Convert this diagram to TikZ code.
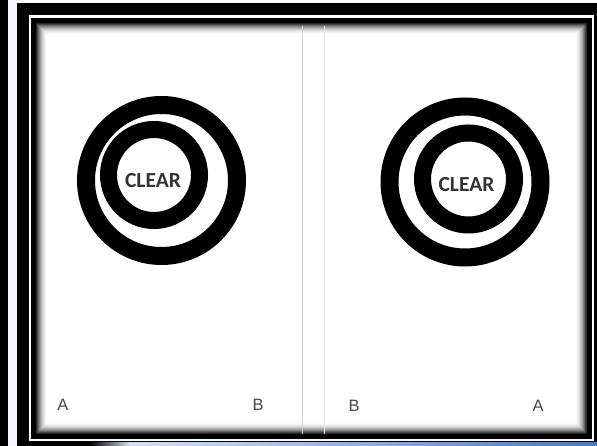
\documentclass[tikz,border=0pt]{standalone}
\usepackage{fontspec}
\usepackage{xcolor}
\usepackage{tikz}
\usetikzlibrary{positioning}

\newfontfamily\rotulofont{Carlito}
\newfontfamily\letrafont{Liberation Sans}

\definecolor{franjaclara}{HTML}{F3F7FC}
\definecolor{azulbarra}{HTML}{4A78C4}
\definecolor{azulclaro}{HTML}{D4E3F6}
\definecolor{tinta}{HTML}{333333}

\begin{document}
\begin{tikzpicture}[x=1pt, y=-1pt,
    anillo/.style={circle, draw=black, line width=#1, inner sep=0pt},
    rotulo/.style={font=\rotulofont\bfseries\fontsize{21.5}{23}\selectfont, text=tinta, inner sep=0pt},
    letra/.style={font=\letrafont\fontsize{16.5}{18}\selectfont, text=black!72, inner sep=0pt}]

    \useasboundingbox (0,0) rectangle (597,446);

    % Fondo y marco exterior
    \fill[white] (0,0) rectangle (597,446);
    \fill[black] (0,0) rectangle (8,446);
    \fill[franjaclara] (8,0) rectangle (17,446);
    \fill[black] (17,3) rectangle (597,446);
    \fill[white] (29,15) rectangle (594,441);
    \fill[black] (31,18) rectangle (592,439);

    % Barra azul inferior
    \shade[left color=black, right color=azulclaro] (90,442) rectangle (130,446);
    \shade[left color=azulclaro, right color=azulbarra] (130,442) rectangle (597,446);

    % Panel blanco con sombra interior
    \foreach \i/\c in {0/100,1/85,2/72,3/60,4/48,5/38,6/29,7/21,8/14,9/9,10/5,11/2,12/0}
        \fill[black!\c] (35+\i,22+\i) rectangle (588-\i,435-\i);

    % Pliegue central
    \draw[black!18, line width=1pt] (302,26) -- (302,434);
    \draw[black!8, line width=1pt] (324,26) -- (324,434);

    % Diana izquierda
    \node[anillo=18pt, minimum size=151pt] (extIzq) at (161.5,180.5) {};
    \node[anillo=17pt, minimum size=91pt] (intIzq) at (154,175) {};
    \node[rotulo] (clearIzq) at (153,180.5) {CLEAR};

    % Diana derecha
    \node[anillo=18pt, minimum size=151pt] (extDer) at (465,182) {};
    \node[anillo=17pt, minimum size=92pt] (intDer) at (468.5,179) {};
    \node[rotulo] (clearDer) at (466.5,184.5) {CLEAR};

    % Letras inferiores
    \node[letra] (aIzq) at (63,405) {A};
    \node[letra] (bIzq) at (258,405) {B};
    \node[letra] (bDer) at (354,406) {B};
    \node[letra] (aDer) at (538,406) {A};
\end{tikzpicture}
\end{document}
